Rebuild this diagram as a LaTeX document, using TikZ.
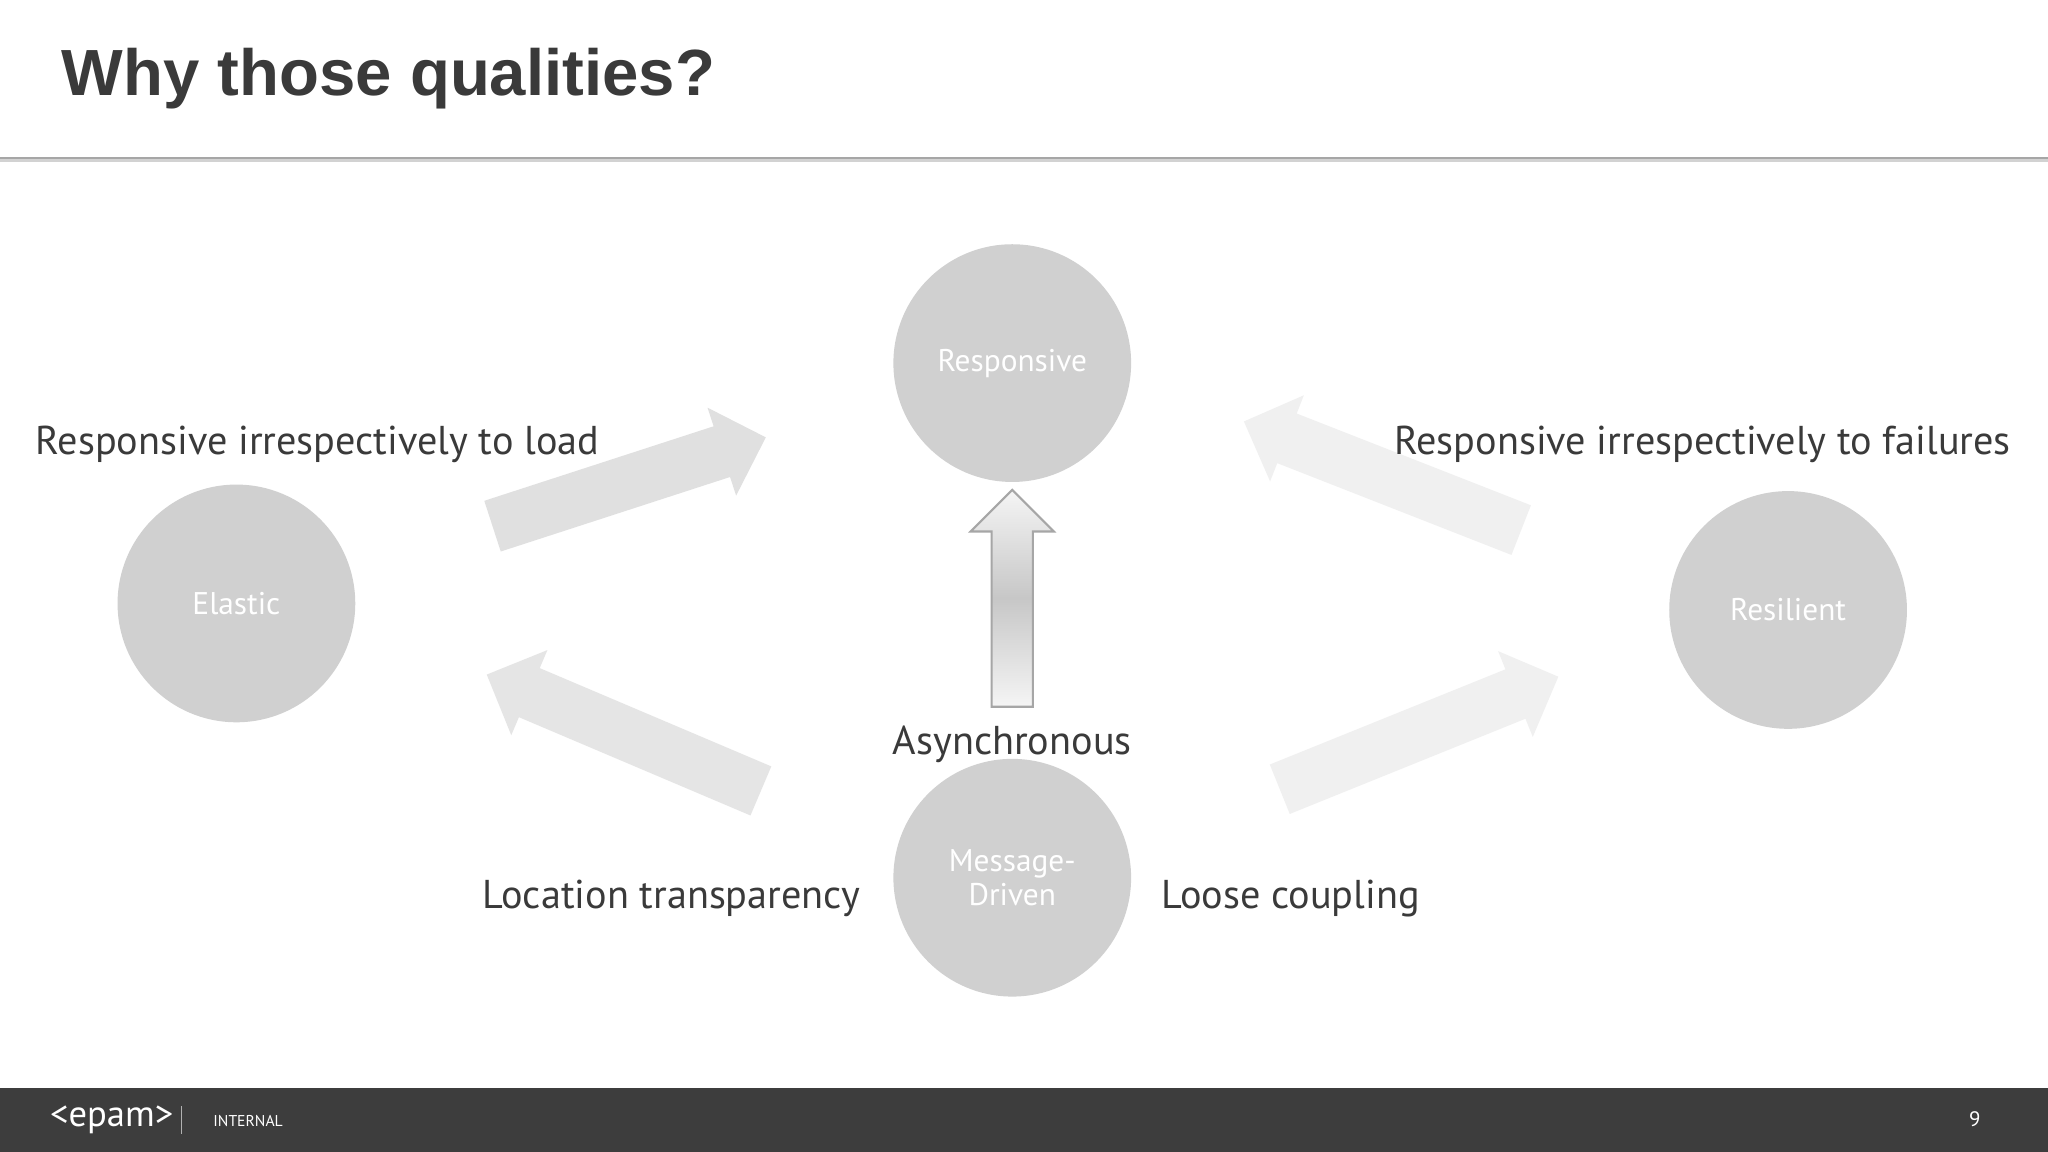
\documentclass[tikz,border=0pt]{standalone}
\usepackage{fontspec}
\setmainfont{PT Sans}
\newfontfamily\titlefont{Liberation Sans}
\usetikzlibrary{shapes.arrows}
\definecolor{circ}{HTML}{D0D0D0}
\definecolor{txt}{HTML}{3A3A3A}
\definecolor{foot}{HTML}{3D3D3D}
\tikzset{
  qual/.style={circle,fill=circ,minimum size=91pt,inner sep=0pt,text=white,font=\fontsize{12}{13}\selectfont,align=center},
  lab/.style={text=txt,font=\fontsize{15.4}{17}\selectfont,inner sep=0pt},
  blockarrow/.style={single arrow,inner xsep=0pt,inner ysep=10pt,minimum width=35pt,single arrow head extend=7.5pt,single arrow head indent=0pt,draw=none}
}
\begin{document}
\begin{tikzpicture}[x=0.5pt,y=-0.5pt]
\useasboundingbox (0,0) rectangle (1568,882);
\fill[white] (0,0) rectangle (1568,882);
% header
\node[anchor=west,inner sep=0pt,text=txt,font=\titlefont\bfseries\fontsize{25}{28}\selectfont] (title) at (47,60) {Why those qualities?};
\fill[gray!35] (0,121) rectangle (1568,124);
\fill[gray!70] (0,120) rectangle (1568,122);
% circles
\node[qual] (resp) at (775,278) {Responsive};
\node[qual] (elas) at (181,462) {Elastic};
\node[qual] (resil) at (1369,467) {Resilient};
\node[qual] (msg) at (775,672) {Message-\\Driven};
% arrows
\node[blockarrow,fill=black!12,minimum height=110pt,rotate=18] (a1) at (472,372) {};
\node[blockarrow,fill=black!10,minimum height=114pt,rotate=157] (a2) at (487,565) {};
\node[blockarrow,fill=black!6,minimum height=114pt,rotate=158.6] (a3) at (1068,368) {};
\node[blockarrow,fill=black!6,minimum height=115pt,rotate=22] (a4) at (1077,565) {};
\node[blockarrow,inner ysep=7.5pt,minimum width=31pt,single arrow head extend=8pt,minimum height=83pt,rotate=90,draw=black!35,line width=0.8pt,left color=black!4,right color=black!4,middle color=black!22,shading angle=0] (up) at (775,466) {};
% labels
\node[lab,anchor=west] (l1) at (27,340) {Responsive irrespectively to load};
\node[lab,anchor=east] (l2) at (1540,340) {Responsive irrespectively to failures};
\node[lab] (l3) at (775,570) {Asynchronous};
\node[lab,anchor=east] (l4) at (659,688) {Location transparency};
\node[lab,anchor=west] (l5) at (889,688) {Loose coupling};
% footer
\fill[foot] (0,833) rectangle (1568,882);
\node[anchor=west,inner sep=0pt,text=white,font=\fontsize{14}{14}\selectfont] (logo) at (38,857) {<epam>};
\draw[white!60!foot] (139,847) -- (139,868);
\node[anchor=west,inner sep=0pt,text=white,font=\fontsize{6}{7}\selectfont] (int) at (163,858) {INTERNAL};
\node[inner sep=0pt,text=white,font=\fontsize{8}{9}\selectfont] (pg) at (1512,857) {9};
\end{tikzpicture}
\end{document}
